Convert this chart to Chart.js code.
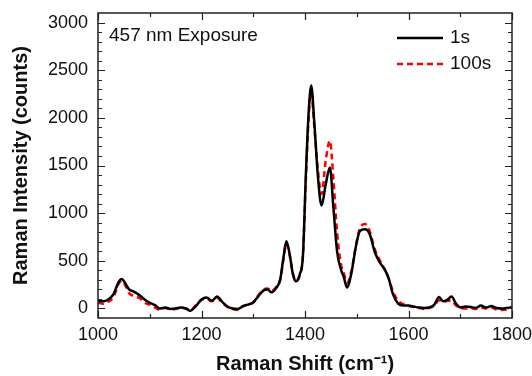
<!DOCTYPE html>
<html>
<head>
<meta charset="utf-8">
<script src="https://cdn.jsdelivr.net/npm/chart.js@4.4.0/dist/chart.umd.min.js"></script>
<style>
  html, body { margin: 0; padding: 0; background: #fff; }
  #wrap { width: 532px; height: 376px; }
</style>
</head>
<body>
<div id="wrap"><canvas id="chart" width="532" height="376"></canvas></div>
<script>
// Raman shift (cm-1)
const shifts = [
  1000, 1010, 1020, 1030, 1040, 1046, 1052, 1060, 1070, 1080, 1090, 1100,
  1110, 1120, 1130, 1140, 1150, 1160, 1170, 1178, 1190, 1200, 1210, 1220,
  1230, 1240, 1250, 1260, 1270, 1280, 1290, 1300, 1310, 1320, 1328, 1335,
  1345, 1352, 1358, 1364, 1370, 1377, 1383, 1390, 1396, 1402, 1407, 1412,
  1418, 1425, 1432, 1440, 1448, 1455, 1462, 1470, 1475, 1481, 1490, 1498,
  1506, 1516, 1525, 1535, 1545, 1555, 1562, 1570, 1580, 1590, 1600, 1610,
  1620, 1630, 1640, 1650, 1659, 1667, 1675, 1683, 1692, 1700, 1710, 1720,
  1730, 1740, 1750, 1760, 1770, 1780, 1790, 1800
];
// 1 s exposure
const counts1s = [
  80, 75, 95, 150, 280, 310, 270, 200, 175, 140, 95, 60,
  35, 0, 10, -5, 0, 10, 0, -25, 30, 95, 115, 80,
  125, 70, 20, 0, -5, 25, 40, 65, 130, 190, 200, 170,
  220, 300, 520, 705, 580, 350, 285, 360, 550, 1450, 2050, 2340,
  1950, 1380, 1080, 1300, 1480, 1050, 600, 400, 330, 220, 380, 640,
  810, 830, 780, 590, 480, 400, 310, 150, 50, 30, 30, 20,
  10, 5, 10, 40, 120, 75, 90, 125, 50, 10, 20, 15,
  5, 30, 10, 25, 5, 0, 5, 10
];
// 100 s exposure
const counts100s = [
  60, 50, 70, 120, 260, 290, 250, 160, 130, 110, 60, 40,
  10, -15, 5, -10, -5, 5, 0, -20, 40, 90, 100, 75,
  110, 60, 15, -5, -15, 20, 45, 60, 140, 200, 210, 180,
  230, 300, 500, 680, 570, 360, 290, 350, 560, 1400, 2000, 2270,
  1900, 1450, 1200, 1550, 1760, 1350, 800, 450, 370, 270, 400, 650,
  840, 885, 810, 620, 500, 400, 310, 180, 80, 45, 25, 15,
  5, -5, 5, 30, 85, 70, 80, 85, 30, 5, 0, 5,
  -5, 10, 0, 10, -10, -15, -10, 20
];
const seriesLabels = ["1s", "100s"];
const yTickValues = [0, 500, 1000, 1500, 2000, 2500, 3000];
const xTickValues = [1000, 1200, 1400, 1600, 1800];
const annotationText = "457 nm Exposure";

const FONT = "'Liberation Sans', Arial, sans-serif";

function toPoints(ys) {
  return shifts.map((x, i) => ({ x, y: ys[i] }));
}

// frame, inward ticks (major + minor), note and legend
const decorPlugin = {
  id: "decor",
  afterDatasetsDraw(chart) {
    const { ctx, chartArea: a, scales } = chart;
    const xs = scales.x, ys = scales.y;
    ctx.save();
    ctx.strokeStyle = "#222";
    ctx.lineWidth = 1.5;
    ctx.strokeRect(a.left, a.top, a.right - a.left, a.bottom - a.top);

    ctx.lineWidth = 1.2;
    ctx.beginPath();
    for (let v = 1000; v <= 1800; v += 100) {
      const px = Math.round(xs.getPixelForValue(v)) + 0.5;
      const len = v % 200 === 0 ? 7 : 4;
      ctx.moveTo(px, a.bottom); ctx.lineTo(px, a.bottom - len);
      ctx.moveTo(px, a.top); ctx.lineTo(px, a.top + len);
    }
    for (let v = 0; v <= 3000; v += 100) {
      const py = Math.round(ys.getPixelForValue(v)) + 0.5;
      const len = v % 500 === 0 ? 7 : 4;
      ctx.moveTo(a.left, py); ctx.lineTo(a.left + len, py);
      ctx.moveTo(a.right, py); ctx.lineTo(a.right - len, py);
    }
    ctx.stroke();

    ctx.fillStyle = "#111";
    ctx.font = "19px " + FONT;
    ctx.textBaseline = "middle";
    ctx.textAlign = "left";
    ctx.fillText(annotationText, a.left + 11, a.top + 23);

    chart.data.datasets.forEach((ds, i) => {
      const y = a.top + 25 + i * 26;
      ctx.strokeStyle = ds.borderColor;
      ctx.lineWidth = ds.borderWidth;
      ctx.setLineDash(ds.borderDash || []);
      ctx.beginPath();
      ctx.moveTo(a.left + 299, y);
      ctx.lineTo(a.left + 345, y);
      ctx.stroke();
      ctx.setLineDash([]);
      ctx.fillText(ds.label, a.left + 352, y);
    });
    ctx.restore();
  }
};

new Chart(document.getElementById("chart"), {
  type: "line",
  data: {
    datasets: [
      {
        label: seriesLabels[0],
        data: toPoints(counts1s),
        borderColor: "#000",
        borderWidth: 2.5,
        pointRadius: 0,
        cubicInterpolationMode: "monotone",
        fill: false,
      },
      {
        label: seriesLabels[1],
        data: toPoints(counts100s),
        borderColor: "#ff0000",
        borderWidth: 2.5,
        borderDash: [6, 4],
        pointRadius: 0,
        cubicInterpolationMode: "monotone",
        fill: false,
      },
    ],
  },
  options: {
    responsive: false,
    animation: false,
    parsing: false,
    layout: { padding: { top: 13, right: 20, left: 0, bottom: 0 } },
    plugins: { legend: { display: false }, tooltip: { enabled: false } },
    scales: {
      x: {
        type: "linear",
        min: 1000,
        max: 1800,
        afterFit: (s) => { s.height = 58; s.paddingLeft = 0; s.paddingRight = 0; },
        afterBuildTicks: (s) => { s.ticks = xTickValues.map((v) => ({ value: v })); },
        grid: { display: false, drawTicks: false },
        border: { display: false },
        ticks: {
          color: "#111", padding: 6, maxRotation: 0,
          font: { family: FONT, size: 18 },
          callback: (v) => String(v),
        },
        title: {
          display: true,
          text: "Raman Shift (cm\u207B\u00B9)",
          color: "#111",
          padding: { top: 1, bottom: 0 },
          font: { family: FONT, size: 20, weight: "bold" },
        },
      },
      y: {
        type: "linear",
        min: -100,
        max: 3100,
        afterFit: (s) => { s.width = 98; s.paddingTop = 0; s.paddingBottom = 0; },
        afterBuildTicks: (s) => { s.ticks = yTickValues.map((v) => ({ value: v })); },
        grid: { display: false, drawTicks: false },
        border: { display: false },
        ticks: {
          color: "#111", padding: 10,
          font: { family: FONT, size: 18 },
          callback: (v) => String(v),
        },
        title: {
          display: true,
          text: "Raman Intensity (counts)",
          color: "#111",
          padding: { top: 9, bottom: 0 },
          font: { family: FONT, size: 20, weight: "bold" },
        },
      },
    },
  },
  plugins: [decorPlugin],
});
</script>
</body>
</html>
